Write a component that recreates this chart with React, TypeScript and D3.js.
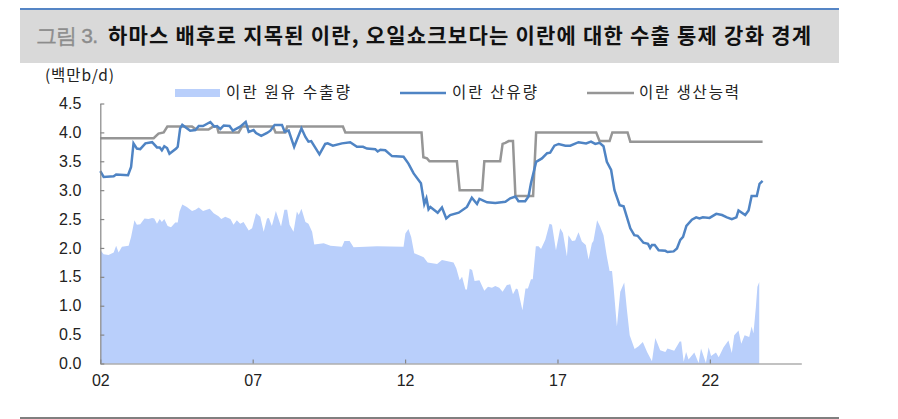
import React, { useEffect, useRef } from 'react';
import * as d3 from 'd3';

const BASE_YEAR = 2002;
const yTicks = [0, 0.5, 1, 1.5, 2, 2.5, 3, 3.5, 4, 4.5];
const xTicks = [2002, 2007, 2012, 2017, 2022];

// years after 2002 / million b/d
const exportT = [0.02, 0.11, 0.27, 0.44, 0.52, 0.6, 0.71, 0.93, 1.01, 1.12, 1.2, 1.31, 1.45, 1.58, 1.7, 1.77, 1.86, 1.95, 2.02, 2.1, 2.21, 2.32, 2.46, 2.54, 2.6, 2.69, 2.84, 3.01, 3.12, 3.23, 3.37, 3.59, 3.72, 3.88, 3.97, 4.1, 4.27, 4.37, 4.48, 4.59, 4.7, 4.87, 4.98, 5.11, 5.25, 5.36, 5.47, 5.53, 5.63, 5.76, 5.93, 6.04, 6.13, 6.21, 6.34, 6.45, 6.51, 6.6, 6.73, 6.83, 6.95, 7.02, 7.33, 7.55, 7.93, 8.01, 8.18, 8.31, 9.08, 9.95, 10.01, 10.11, 10.2, 10.3, 10.61, 10.74, 11.05, 11.21, 11.59, 11.68, 11.79, 11.87, 11.98, 12.03, 12.12, 12.2, 12.28, 12.44, 12.6, 12.72, 12.85, 12.96, 13.09, 13.2, 13.34, 13.45, 13.54, 13.64, 13.7, 13.85, 13.95, 14.03, 14.13, 14.19, 14.29, 14.38, 14.46, 14.6, 14.74, 14.82, 14.95, 15.09, 15.18, 15.31, 15.36, 15.48, 15.58, 15.69, 15.8, 15.93, 16.02, 16.13, 16.18, 16.3, 16.4, 16.51, 16.62, 16.71, 16.79, 16.84, 16.95, 17.06, 17.19, 17.28, 17.37, 17.53, 17.66, 17.8, 17.94, 18.1, 18.21, 18.37, 18.54, 18.61, 18.83, 19.01, 19.06, 19.14, 19.22, 19.3, 19.49, 19.63, 19.71, 19.87, 19.96, 20.04, 20.2, 20.29, 20.45, 20.61, 20.72, 20.8, 20.94, 21.03, 21.14, 21.29, 21.37, 21.43, 21.51, 21.56, 21.62];
const exportV = [1.95, 1.89, 1.88, 1.92, 2.04, 1.92, 2.02, 2.04, 2.19, 2.48, 2.4, 2.41, 2.51, 2.5, 2.52, 2.51, 2.42, 2.5, 2.45, 2.5, 2.38, 2.36, 2.44, 2.44, 2.63, 2.75, 2.71, 2.64, 2.66, 2.7, 2.64, 2.68, 2.6, 2.55, 2.5, 2.54, 2.5, 2.4, 2.48, 2.42, 2.45, 2.3, 2.34, 2.6, 2.54, 2.28, 2.51, 2.52, 2.38, 2.64, 2.37, 2.66, 2.66, 2.4, 2.28, 2.63, 2.57, 2.68, 2.45, 2.42, 2.28, 2.06, 2.08, 2.04, 2.02, 2.12, 2.12, 2.01, 2.03, 2.02, 2.25, 2.33, 2.19, 1.91, 1.84, 1.75, 1.72, 1.79, 1.75, 1.65, 1.44, 1.5, 1.28, 1.28, 1.64, 1.62, 1.43, 1.44, 1.26, 1.33, 1.31, 1.34, 1.31, 1.24, 1.36, 1.37, 1.2, 1.3, 1.28, 0.92, 1.3, 1.3, 1.46, 1.46, 2.03, 2.03, 1.98, 2.14, 2.42, 2.4, 1.96, 2.34, 2.26, 1.85, 2.22, 2.12, 2.13, 2.27, 2.11, 2.05, 1.8, 2.08, 2.12, 2.48, 2.37, 2.22, 1.85, 1.6, 1.6, 1.33, 0.64, 1.24, 1.4, 0.92, 0.49, 0.25, 0.3, 0.37, 0.2, 0.04, 0.44, 0.23, 0.2, 0.26, 0.22, 0.38, 0.38, 0.03, 0.2, 0.07, 0.19, 0.01, 0.26, 0.01, 0.28, 0.13, 0.19, 0.11, 0.28, 0.4, 0.18, 0.49, 0.57, 0.34, 0.49, 0.46, 0.64, 0.52, 0.98, 1.33, 1.41];

const outputT = [0, 0.11, 0.44, 0.52, 0.91, 1.01, 1.09, 1.2, 1.31, 1.48, 1.7, 1.86, 1.95, 2.02, 2.1, 2.19, 2.27, 2.49, 2.54, 2.62, 2.69, 2.95, 3.12, 3.23, 3.37, 3.61, 3.74, 3.83, 3.94, 4.05, 4.24, 4.35, 4.59, 4.77, 4.87, 5.03, 5.11, 5.28, 5.47, 5.58, 5.72, 5.96, 6.05, 6.18, 6.36, 6.6, 6.73, 6.83, 6.92, 7.19, 7.38, 7.46, 7.63, 7.93, 8.2, 8.42, 8.62, 8.75, 9.02, 9.1, 9.19, 9.35, 9.57, 9.95, 10.11, 10.28, 10.52, 10.63, 10.7, 10.77, 10.83, 11.07, 11.21, 11.35, 11.48, 11.76, 12.03, 12.19, 12.36, 12.44, 12.69, 12.96, 13.29, 13.45, 13.62, 13.72, 13.94, 14.05, 14.13, 14.3, 14.49, 14.66, 14.76, 14.9, 15.04, 15.26, 15.42, 15.69, 15.94, 16.1, 16.24, 16.38, 16.51, 16.62, 16.76, 16.87, 17.04, 17.17, 17.39, 17.52, 17.63, 17.82, 17.97, 18.04, 18.1, 18.19, 18.32, 18.54, 18.61, 18.81, 18.92, 19.03, 19.12, 19.23, 19.41, 19.55, 19.66, 19.77, 19.99, 20.21, 20.4, 20.56, 20.72, 20.87, 20.94, 21.16, 21.27, 21.37, 21.54, 21.63, 21.73];
const outputV = [3.33, 3.23, 3.24, 3.27, 3.26, 3.4, 3.81, 3.72, 3.71, 3.81, 3.83, 3.74, 3.74, 3.69, 3.76, 3.73, 3.63, 3.72, 3.75, 4.07, 4.13, 4.03, 4.04, 4.11, 4.11, 4.18, 4.1, 4.11, 4.06, 4.12, 4.11, 4.03, 4.1, 4.18, 4.01, 4.04, 3.99, 3.94, 3.99, 4.03, 4.13, 4.13, 4.01, 4.03, 3.75, 4.07, 3.92, 3.84, 3.85, 3.62, 3.8, 3.81, 3.77, 3.81, 3.83, 3.75, 3.75, 3.72, 3.71, 3.67, 3.7, 3.69, 3.59, 3.58, 3.46, 3.29, 3.12, 2.76, 2.86, 2.67, 2.71, 2.61, 2.7, 2.51, 2.57, 2.61, 2.71, 2.87, 2.76, 2.85, 2.79, 2.78, 2.8, 2.86, 2.89, 2.81, 2.81, 2.89, 3.12, 3.49, 3.55, 3.64, 3.65, 3.77, 3.8, 3.77, 3.77, 3.83, 3.81, 3.84, 3.8, 3.82, 3.76, 3.49, 3.35, 3, 2.74, 2.72, 2.34, 2.22, 2.21, 2.09, 2.07, 2, 2.05, 2.05, 1.96, 1.95, 1.93, 1.94, 1.99, 2.14, 2.19, 2.38, 2.49, 2.53, 2.51, 2.53, 2.52, 2.59, 2.57, 2.53, 2.5, 2.53, 2.65, 2.57, 2.65, 2.9, 2.9, 3.11, 3.16];

const capacityT = [0, 1.75, 1.91, 2.08, 2.2, 3.01, 3.15, 3.55, 3.7, 3.83, 3.88, 4.54, 4.65, 5.67, 5.75, 6.07, 6.13, 7.96, 8.04, 10.54, 10.6, 10.72, 10.8, 11.7, 11.79, 12.53, 12.6, 13.12, 13.2, 13.29, 13.4, 13.54, 13.62, 14.2, 14.3, 16.27, 16.38, 16.71, 16.8, 17.3, 17.39, 21.73];
const capacityV = [3.9, 3.9, 3.98, 4, 4.1, 4.1, 4.05, 4.05, 4.1, 4.1, 4, 4, 4.1, 4.1, 4, 4, 4.1, 4.1, 4, 4, 3.57, 3.55, 3.5, 3.5, 3, 3, 3.5, 3.5, 3.8, 3.82, 3.85, 3.85, 2.9, 2.9, 4, 4, 3.85, 3.85, 4, 4, 3.84, 3.84];

const titleLabel = '그림 3.';
const titleText = '하마스 배후로 지목된 이란, 오일쇼크보다는 이란에 대한 수출 통제 강화 경계';
const unitLabel = '(백만b/d)';
const exportName = '이란 원유 수출량';
const outputName = '이란 산유량';
const capacityName = '이란 생산능력';

const WIDTH = 898;
const HEIGHT = 419;
const AREA_COLOR = '#b9cffb';
const OUTPUT_COLOR = '#4f84c4';
const CAPACITY_COLOR = '#969696';
const AXIS_COLOR = '#868686';
const KO_FONT = '"Noto Sans CJK KR", "Noto Sans", sans-serif';
const NUM_FONT = '"Liberation Sans", Arial, sans-serif';

export default function App() {
  const axisRef = useRef<SVGGElement>(null);

  const x = d3.scaleLinear().domain([2002, 2025]).range([100.3, 801.3]);
  const y = d3.scaleLinear().domain([0, 4.5]).range([363.5, 103.5]);

  const pts = (ts: number[], vs: number[]) =>
    ts.map((t, i) => [BASE_YEAR + t, vs[i]] as [number, number]);

  const line = d3
    .line<[number, number]>()
    .x(d => x(d[0]))
    .y(d => y(d[1]));
  const area = d3
    .area<[number, number]>()
    .x(d => x(d[0]))
    .y0(y(0))
    .y1(d => y(d[1]));

  useEffect(() => {
    if (!axisRef.current) return;
    const g = d3.select(axisRef.current);
    g.selectAll('*').remove();

    const yAxis = d3
      .axisLeft(y)
      .tickValues(yTicks)
      .tickSizeInner(-4)
      .tickSizeOuter(0)
      .tickPadding(19)
      .tickFormat(d => d3.format('.1f')(d as number));
    const xAxis = d3
      .axisBottom(x)
      .tickValues(xTicks)
      .tickSizeInner(-4)
      .tickSizeOuter(0)
      .tickPadding(11)
      .tickFormat(d => String(d).slice(2));

    const gy = g.append('g').attr('transform', `translate(${x(2002)},0)`).call(yAxis);
    const gx = g.append('g').attr('transform', `translate(0,${y(0)})`).call(xAxis);

    [gy, gx].forEach(a => {
      a.selectAll('path,line').attr('stroke', AXIS_COLOR).attr('stroke-width', 1.2);
      a.selectAll('text')
        .attr('fill', '#222')
        .style('font-family', NUM_FONT)
        .style('font-size', '16px');
    });
  }, []);

  return (
    <svg
      width={WIDTH}
      height={HEIGHT}
      style={{ position: 'absolute', left: 0, top: 0, background: '#fff' }}
    >
      <rect x={20} y={10} width={819} height={53} fill="#d9d9d9" />
      <rect x={20} y={8} width={819} height={2} fill="#5585c5" />
      <rect x={20} y={417} width={819} height={2} fill="#808080" />
      <text x={36} y={43} fontFamily={NUM_FONT} fontSize={21} fontWeight={400} fill="#8c8c8c" stroke="#8c8c8c" strokeWidth={0.4} textLength={62}>
        {titleLabel}
      </text>
      <text
        x={108}
        y={43}
        fontFamily={KO_FONT}
        fontSize={21}
        fontWeight={700}
        fill="#111"
        textLength={703}
        lengthAdjust="spacing"
      >
        {titleText}
      </text>

      <text x={45} y={81} fontFamily={KO_FONT} fontSize={15.5} fill="#222" textLength={69}>
        {unitLabel}
      </text>

      <path d={area(pts(exportT, exportV)) ?? ''} fill={AREA_COLOR} />
      <path d={line(pts(capacityT, capacityV)) ?? ''} fill="none" stroke={CAPACITY_COLOR} strokeWidth={2.5} />
      <path d={line(pts(outputT, outputV)) ?? ''} fill="none" stroke={OUTPUT_COLOR} strokeWidth={2.5} />
      <g ref={axisRef} />

      <rect x={175} y={89} width={45} height={8} fill={AREA_COLOR} />
      <text x={226} y={98} fontFamily={KO_FONT} fontSize={15.5} fill="#222" textLength={124}>
        {exportName}
      </text>
      <line x1={400} x2={446} y1={93} y2={93} stroke={OUTPUT_COLOR} strokeWidth={2.5} />
      <text x={452} y={98} fontFamily={KO_FONT} fontSize={15.5} fill="#222" textLength={85}>
        {outputName}
      </text>
      <line x1={587} x2={634} y1={93} y2={93} stroke={CAPACITY_COLOR} strokeWidth={2.5} />
      <text x={639} y={98} fontFamily={KO_FONT} fontSize={15.5} fill="#222" textLength={100}>
        {capacityName}
      </text>
    </svg>
  );
}
